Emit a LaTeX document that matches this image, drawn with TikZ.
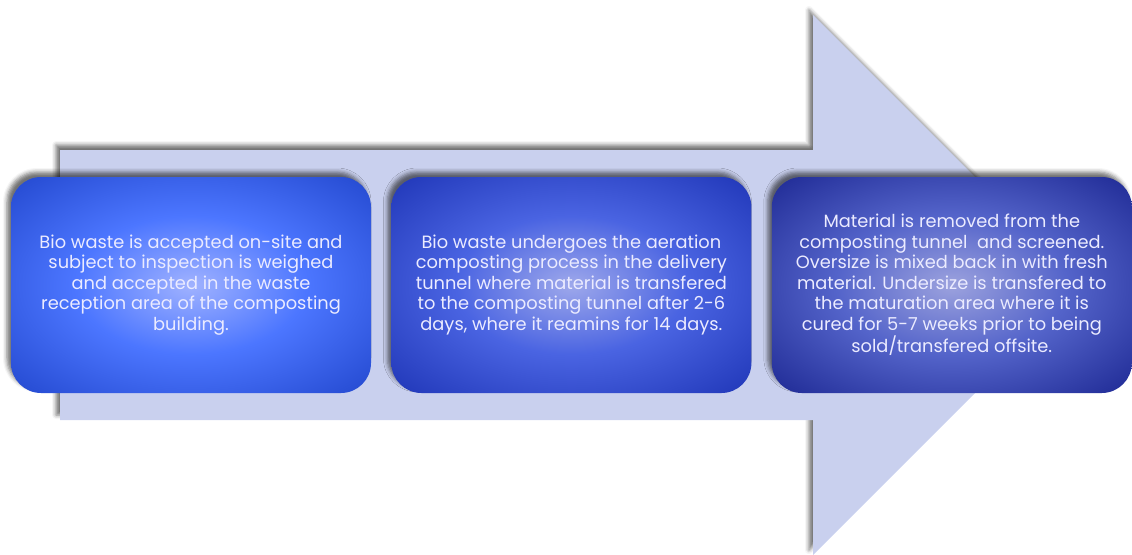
\documentclass[tikz,border=0pt]{standalone}
\usepackage{fontspec}
\setmainfont{Poppins}
\usetikzlibrary{positioning,shadows.blur}

\definecolor{arrowfill}{RGB}{201,208,238}
\definecolor{oneIn}{RGB}{160,178,255}
\definecolor{oneMid}{RGB}{76,118,255}
\definecolor{oneOut}{RGB}{26,62,196}
\definecolor{twoIn}{RGB}{158,168,235}
\definecolor{twoMid}{RGB}{74,100,226}
\definecolor{twoOut}{RGB}{22,44,174}
\definecolor{threeIn}{RGB}{156,162,222}
\definecolor{threeMid}{RGB}{84,100,202}
\definecolor{threeOut}{RGB}{18,28,136}

\pgfdeclareradialshading{glowone}{\pgfpoint{0bp}{0bp}}{color(0bp)=(oneIn); color(16bp)=(oneMid); color(40bp)=(oneOut); color(75bp)=(oneOut)}
\pgfdeclareradialshading{glowtwo}{\pgfpoint{0bp}{0bp}}{color(0bp)=(twoIn); color(16bp)=(twoMid); color(40bp)=(twoOut); color(75bp)=(twoOut)}
\pgfdeclareradialshading{glowthree}{\pgfpoint{0bp}{0bp}}{color(0bp)=(threeIn); color(16bp)=(threeMid); color(40bp)=(threeOut); color(75bp)=(threeOut)}

\tikzset{
  softshadow/.style={blur shadow={shadow xshift=-4pt, shadow yshift=5pt,
      shadow blur radius=4pt, shadow opacity=55}},
  stage/.style={softshadow, rounded corners=30pt, minimum width=360pt,
      minimum height=216pt, inner sep=0pt, align=center, text=white!92!blue,
      font=\fontsize{17.8}{20.5}\selectfont},
}

\begin{document}
\begin{tikzpicture}[x=1pt, y=-1pt]
  \useasboundingbox (0,0) rectangle (1132,554);
  % big process arrow behind the steps
  \path[fill=arrowfill, softshadow]
    (60,150) -- (813,150) -- (813,15) -- (1083,285) -- (813,555)
    -- (813,420) -- (60,420) -- cycle;
  % the three steps
  \node[stage, shading=glowone] (receive) at (191,285)
    {Bio waste is accepted on-site and\\ subject to inspection is weighed\\
     and accepted in the waste\\ reception area of the composting\\ building.};
  \node[stage, shading=glowtwo, right=20pt of receive] (tunnel)
    {Bio waste undergoes the aeration\\ composting process in the delivery\\
     tunnel where material is transfered\\ to the composting tunnel after 2-6\\
     days, where it reamins for 14 days.};
  \node[stage, shading=glowthree, right=20pt of tunnel] (mature)
    {Material is removed from the\\ composting tunnel\ \ and screened.\\
     Oversize is mixed back in with fresh\\ material. Undersize is transfered to\\
     the maturation area where it is\\ cured for 5-7 weeks prior to being\\
     sold/transfered offsite.};
\end{tikzpicture}
\end{document}
